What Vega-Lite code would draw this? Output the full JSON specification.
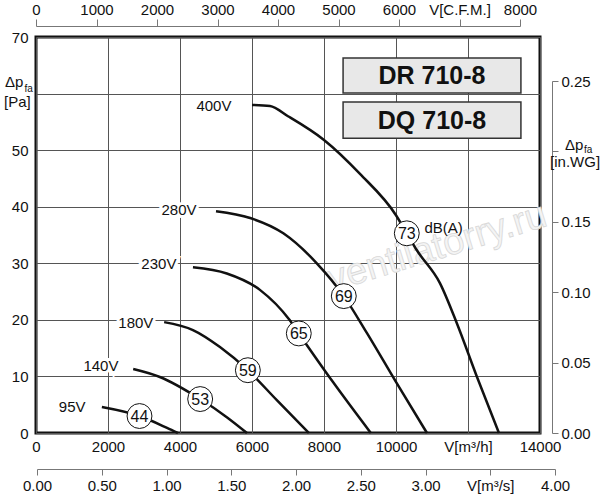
{
  "$schema": "https://vega.github.io/schema/vega-lite/v6.json",
  "width": 504,
  "height": 396,
  "autosize": {"type": "none"},
  "padding": {"left": 36, "top": 37, "right": 60, "bottom": 67},
  "datasets": {
    "curves": [
      {"v": "400V", "q": 6000, "p": 58.0}, {"v": "400V", "q": 6500, "p": 57.8},
      {"v": "400V", "q": 7000, "p": 56.0}, {"v": "400V", "q": 8000, "p": 51.8},
      {"v": "400V", "q": 9000, "p": 45.8}, {"v": "400V", "q": 10000, "p": 38.5},
      {"v": "400V", "q": 10300, "p": 35.3}, {"v": "400V", "q": 10580, "p": 32.3},
      {"v": "400V", "q": 11220, "p": 26.5}, {"v": "400V", "q": 11690, "p": 19.4},
      {"v": "400V", "q": 12250, "p": 9.9}, {"v": "400V", "q": 12860, "p": 0},
      {"v": "280V", "q": 5000, "p": 39.2}, {"v": "280V", "q": 5950, "p": 38.0},
      {"v": "280V", "q": 6870, "p": 35.3}, {"v": "280V", "q": 7800, "p": 30.0},
      {"v": "280V", "q": 8550, "p": 24.2}, {"v": "280V", "q": 9190, "p": 17.7},
      {"v": "280V", "q": 10020, "p": 8.8}, {"v": "280V", "q": 10860, "p": 0},
      {"v": "230V", "q": 4360, "p": 29.3}, {"v": "230V", "q": 5300, "p": 28.2},
      {"v": "230V", "q": 6220, "p": 25.3}, {"v": "230V", "q": 7040, "p": 20.0},
      {"v": "230V", "q": 7300, "p": 17.6}, {"v": "230V", "q": 8250, "p": 9.0},
      {"v": "230V", "q": 9300, "p": 0},
      {"v": "180V", "q": 3560, "p": 19.6}, {"v": "180V", "q": 4360, "p": 18.2},
      {"v": "180V", "q": 5110, "p": 15.2}, {"v": "180V", "q": 5885, "p": 11.1},
      {"v": "180V", "q": 6690, "p": 5.8}, {"v": "180V", "q": 7580, "p": 0},
      {"v": "140V", "q": 2700, "p": 11.3}, {"v": "140V", "q": 3440, "p": 9.9},
      {"v": "140V", "q": 4560, "p": 6.0}, {"v": "140V", "q": 5300, "p": 2.8},
      {"v": "140V", "q": 5860, "p": 0},
      {"v": "95V", "q": 1830, "p": 4.6}, {"v": "95V", "q": 2875, "p": 3.0},
      {"v": "95V", "q": 3640, "p": 0.9}, {"v": "95V", "q": 3940, "p": 0}
    ],
    "badges": [
      {"db": "44", "q": 2875, "p": 3.0},
      {"db": "53", "q": 4560, "p": 6.0},
      {"db": "59", "q": 5885, "p": 11.1},
      {"db": "65", "q": 7300, "p": 17.6},
      {"db": "69", "q": 8550, "p": 24.2},
      {"db": "73", "q": 10300, "p": 35.3}
    ],
    "volts": [
      {"t": "400V", "q": 5430, "p": 57.8},
      {"t": "280V", "q": 4460, "p": 39.4},
      {"t": "230V", "q": 3900, "p": 29.9},
      {"t": "180V", "q": 3260, "p": 19.4},
      {"t": "140V", "q": 2290, "p": 11.8},
      {"t": "95V", "q": 1375, "p": 4.6}
    ]
  },
  "layer": [
    {
      "encoding": {
        "x": {
          "field": "q",
          "type": "quantitative",
          "title": null,
          "scale": {"domain": [0, 14000], "nice": false, "zero": false},
          "axis": {
            "orient": "bottom",
            "values": [0, 2000, 4000, 6000, 8000, 10000, 12000, 14000],
            "format": "d",
            "labelExpr": "datum.value == 12000 ? 'V[m³/h]' : datum.label",
            "domain": false,
            "ticks": false,
            "grid": true,
            "gridColor": "#555",
            "gridWidth": 1,
            "labelPadding": 6,
            "labelFlush": false,
            "labelOverlap": false
          }
        },
        "y": {
          "field": "p",
          "type": "quantitative",
          "title": null,
          "scale": {"domain": [0, 70], "nice": false, "zero": false},
          "axis": {
            "orient": "left",
            "values": [0, 10, 20, 30, 40, 50, 60, 70],
            "labelExpr": "datum.value == 60 ? '' : datum.label",
            "domain": false,
            "ticks": false,
            "grid": true,
            "gridColor": "#555",
            "gridWidth": 1,
            "labelPadding": 8,
            "labelFlush": false,
            "labelOverlap": false
          }
        }
      },
      "layer": [
        {
          "data": {"values": [{"t": "ventilatorry.ru", "q": 11140, "p": 32.7}]},
          "mark": {"type": "text", "angle": -17, "fontSize": 38, "font": "Liberation Sans", "fill": "#f4f4f4", "stroke": "#d8d8d8", "strokeWidth": 0.8},
          "encoding": {"text": {"field": "t"}}
        },
        {
          "data": {"values": [
            {"q": 8530, "qe": 13470, "p": 60.1, "pe": 66.3},
            {"q": 8530, "qe": 13470, "p": 52.1, "pe": 58.5}
          ]},
          "mark": {"type": "rect", "fill": "#e8e8e8", "stroke": "#333", "strokeWidth": 1.5},
          "encoding": {"x2": {"field": "qe"}, "y2": {"field": "pe"}}
        },
        {
          "data": {"values": [
            {"t": "DR 710-8", "q": 11000, "p": 63.2},
            {"t": "DQ 710-8", "q": 11000, "p": 55.3}
          ]},
          "mark": {"type": "text", "fontSize": 25, "fontWeight": "bold", "font": "Liberation Sans", "color": "#111", "baseline": "middle", "dy": 1},
          "encoding": {"text": {"field": "t"}}
        },
        {
          "data": {"name": "curves"},
          "mark": {"type": "line", "interpolate": "monotone", "color": "#111", "strokeWidth": 2.5},
          "encoding": {"detail": {"field": "v"}}
        },
        {
          "data": {"name": "volts"},
          "mark": {"type": "text", "align": "right", "baseline": "middle", "fontSize": 15, "font": "Liberation Sans", "color": "white", "stroke": "white", "strokeWidth": 6},
          "encoding": {"text": {"field": "t"}}
        },
        {
          "data": {"name": "volts"},
          "mark": {"type": "text", "align": "right", "baseline": "middle", "fontSize": 15, "font": "Liberation Sans", "color": "#111"},
          "encoding": {"text": {"field": "t"}}
        },
        {
          "data": {"name": "badges"},
          "mark": {"type": "point", "shape": "circle", "filled": true, "fill": "white", "stroke": "#111", "strokeWidth": 1, "size": 620, "opacity": 1}
        },
        {
          "data": {"name": "badges"},
          "mark": {"type": "text", "baseline": "middle", "fontSize": 16, "font": "Liberation Sans", "color": "#111", "dy": 1},
          "encoding": {"text": {"field": "db"}}
        },
        {
          "data": {"values": [
            {"t": "dB(A)", "q": 10790, "p": 35.3},
            {"t": "Δp", "q": -861, "p": 61.2},
            {"t": "[Pa]", "q": -890, "p": 57.6},
            {"t": "Δp", "q": 14694, "p": 50.0},
            {"t": "[in.WG]", "q": 14280, "p": 47.0}
          ]},
          "mark": {"type": "text", "align": "left", "baseline": "alphabetic", "fontSize": 15, "font": "Liberation Sans", "color": "#111"},
          "encoding": {"text": {"field": "t"}}
        },
        {
          "data": {"values": [
            {"t": "fa", "q": -320, "p": 60.3},
            {"t": "fa", "q": 15220, "p": 49.5}
          ]},
          "mark": {"type": "text", "align": "left", "baseline": "alphabetic", "fontSize": 10, "font": "Liberation Sans", "color": "#111"},
          "encoding": {"text": {"field": "t"}}
        }
      ]
    },
    {
      "data": {"values": [{"cfm": 0, "inwg": 0}]},
      "mark": {"type": "point", "opacity": 0},
      "encoding": {
        "x": {
          "field": "cfm",
          "type": "quantitative",
          "title": null,
          "scale": {"domain": [0, 8000], "range": [0, 484], "nice": false},
          "axis": {
            "orient": "top",
            "offset": 11,
            "values": [0, 1000, 2000, 3000, 4000, 5000, 6000, 7000, 8000],
            "format": "d",
            "labelExpr": "datum.value == 7000 ? 'V[C.F.M.]' : datum.label",
            "domainColor": "#777",
            "tickColor": "#777",
            "tickSize": 7,
            "grid": false,
            "labelPadding": 2,
            "labelFlush": false,
            "labelOverlap": false
          }
        },
        "y": {
          "field": "inwg",
          "type": "quantitative",
          "title": null,
          "scale": {"domain": [0, 0.25], "range": [396, 44], "nice": false},
          "axis": {
            "orient": "right",
            "offset": 12,
            "values": [0, 0.05, 0.1, 0.15, 0.2, 0.25],
            "format": ".2f",
            "labelExpr": "datum.value == 0.2 ? '' : datum.label",
            "domainColor": "#777",
            "tickColor": "#777",
            "tickSize": 6,
            "grid": false,
            "labelPadding": 3,
            "labelFlush": false,
            "labelOverlap": false
          }
        }
      }
    },
    {
      "data": {"values": [{"ms": 0}]},
      "mark": {"type": "point", "opacity": 0},
      "encoding": {
        "x": {
          "field": "ms",
          "type": "quantitative",
          "title": null,
          "scale": {"domain": [0, 4], "range": [1, 519], "nice": false},
          "axis": {
            "orient": "bottom",
            "offset": 36,
            "values": [0, 0.5, 1, 1.5, 2, 2.5, 3, 3.5, 4],
            "format": ".2f",
            "labelExpr": "datum.value == 3.5 ? 'V[m³/s]' : datum.label",
            "domainColor": "#777",
            "tickColor": "#777",
            "tickSize": 6,
            "grid": false,
            "labelPadding": 3,
            "labelFlush": false,
            "labelOverlap": false
          }
        }
      }
    }
  ],
  "resolve": {
    "scale": {"x": "independent", "y": "independent"},
    "axis": {"x": "independent", "y": "independent"}
  },
  "config": {
    "view": {"stroke": "#111", "strokeWidth": 3},
    "axis": {"labelFont": "Liberation Sans", "labelFontSize": 15, "labelColor": "#111"},
    "text": {"font": "Liberation Sans"}
  }
}
